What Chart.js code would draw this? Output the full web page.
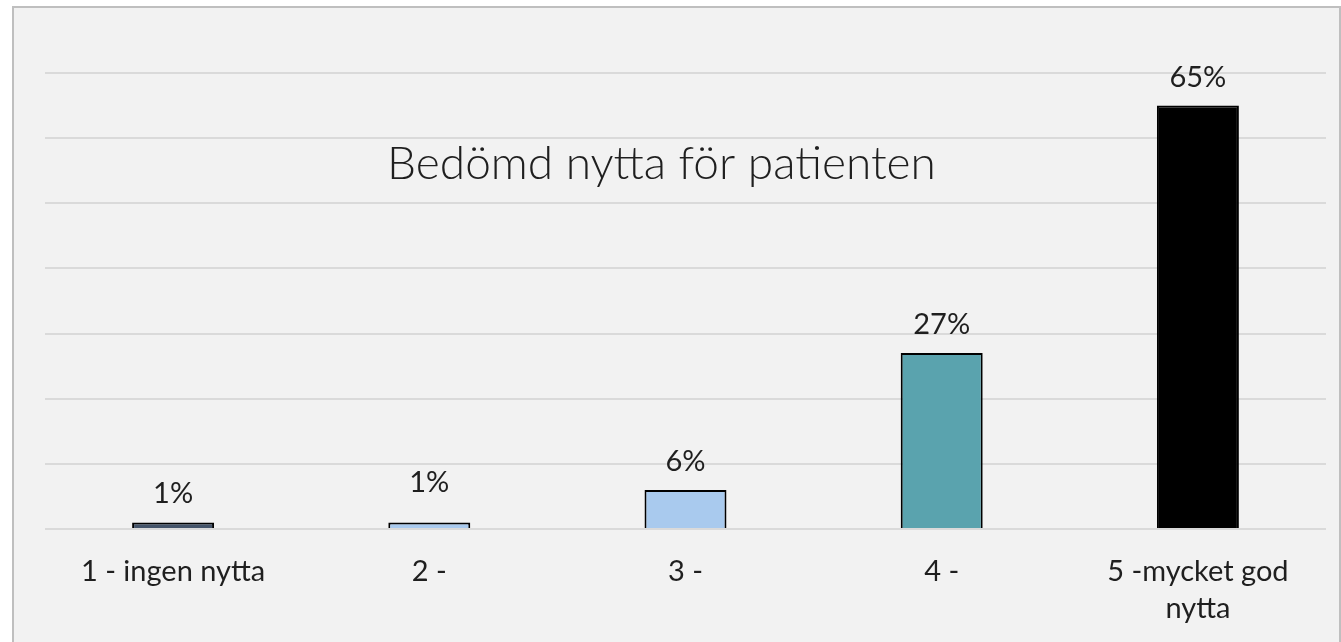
<!DOCTYPE html>
<html>
<head>
<meta charset="utf-8">
<script src="https://cdn.jsdelivr.net/npm/chart.js@4"></script>
<style>
  html, body { margin: 0; padding: 0; background: #ffffff; overflow: hidden; }
  #frame {
    position: absolute; left: 12px; top: 6px;
    width: 1325px; height: 660px;
    border: 2px solid #bfbfbf; background: #f2f2f2;
  }
  #wrap { position: absolute; left: 0; top: 0; width: 1325px; height: 634px; }
</style>
</head>
<body>
<div id="frame"><div id="wrap"><canvas id="chart"></canvas></div></div>
<script>
// data
var categories = ["1 - ingen nytta", "2 -", "3 -", "4 -", ["5 -mycket god", "nytta"]];
var percentValues = [1, 1, 6, 27, 65];
var barColors = ["#44546a", "#a9caee", "#a9caee", "#5aa3ae", "#000000"];
var yTicks = [0, 10, 20, 30, 40, 50, 60, 70];
var chartTitle = "Bedömd nytta för patienten";

// label on bar 2 sits a little higher in the original
var labelLift = [0, 11, 0, 0, 0];

var textFont = "Lato, 'Open Sans', sans-serif";

var valueLabels = {
  id: "valueLabels",
  afterDatasetsDraw: function (chart) {
    var ctx = chart.ctx;
    var meta = chart.getDatasetMeta(0);
    ctx.save();
    ctx.font = "29px " + textFont;
    ctx.fillStyle = "#1f1f1f";
    ctx.textAlign = "center";
    ctx.textBaseline = "alphabetic";
    meta.data.forEach(function (bar, i) {
      ctx.fillText(percentValues[i] + "%", bar.x, bar.y - 19 - labelLift[i]);
    });
    ctx.restore();
  }
};

var innerTitle = {
  id: "innerTitle",
  afterDraw: function (chart) {
    var ctx = chart.ctx;
    ctx.save();
    ctx.font = "300 46px " + textFont;
    ctx.fillStyle = "#1f1f1f";
    ctx.textAlign = "center";
    ctx.textBaseline = "alphabetic";
    ctx.fillText(chartTitle, 647.5, 171);
    ctx.restore();
  }
};

var ctx = document.getElementById("chart").getContext("2d");
new Chart(ctx, {
  type: "bar",
  data: {
    labels: categories,
    datasets: [{
      data: percentValues,
      backgroundColor: barColors,
      borderColor: "#000000",
      borderWidth: 2,
      borderSkipped: "start",
      categoryPercentage: 1,
      barPercentage: 0.32
    }]
  },
  options: {
    responsive: true,
    maintainAspectRatio: false,
    animation: false,
    layout: { padding: { left: 31, right: 13, top: 65, bottom: 0 } },
    plugins: {
      legend: { display: false },
      title: { display: false },
      tooltip: { enabled: false }
    },
    scales: {
      x: {
        offset: true,
        grid: { display: false, drawTicks: false },
        border: { display: false },
        ticks: {
          padding: 24,
          maxRotation: 0,
          autoSkip: false,
          color: "#1f1f1f",
          font: { family: textFont, size: 29, lineHeight: 1.28 }
        },
        afterFit: function (scale) { scale.height = 113; }
      },
      y: {
        min: 0,
        max: 70,
        afterBuildTicks: function (scale) {
          scale.ticks = yTicks.map(function (v) { return { value: v }; });
        },
        ticks: { display: false },
        grid: { color: "#dadada", lineWidth: 2, drawTicks: false },
        border: { display: false }
      }
    }
  },
  plugins: [valueLabels, innerTitle]
});
</script>
</body>
</html>
